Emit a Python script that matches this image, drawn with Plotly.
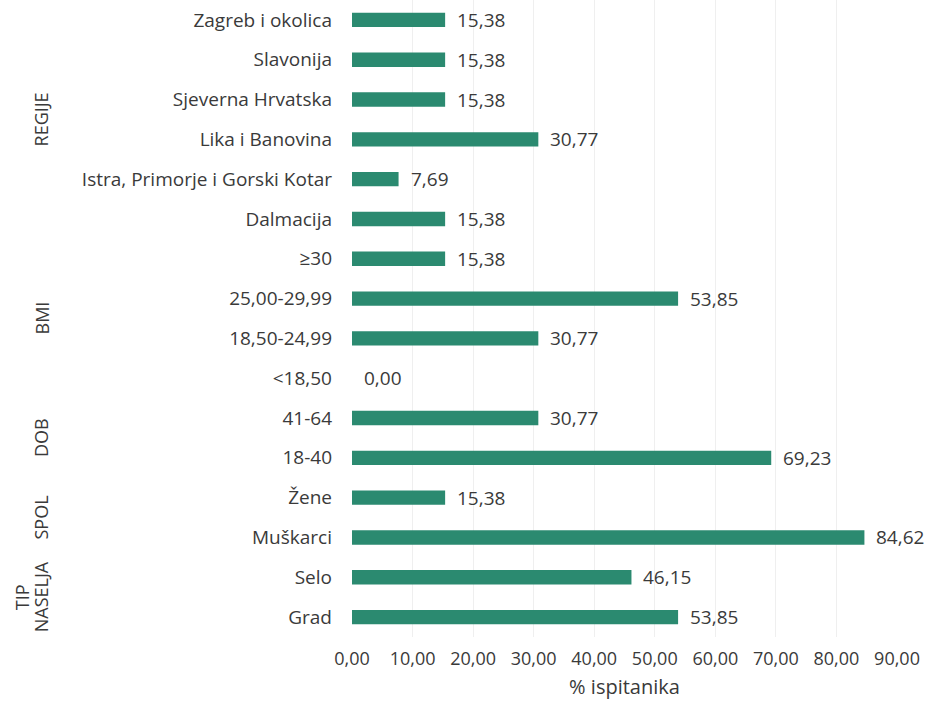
import plotly.graph_objects as go

# Kategorije (odozdo prema gore) i grupe kojima pripadaju
categories = [
    "Grad", "Selo",
    "Muškarci", "Žene",
    "18-40", "41-64",
    "<18,50", "18,50-24,99", "25,00-29,99", "≥30",
    "Dalmacija", "Istra, Primorje i Gorski Kotar", "Lika i Banovina",
    "Sjeverna Hrvatska", "Slavonija", "Zagreb i okolica",
]
values = [
    53.85, 46.15,
    84.62, 15.38,
    69.23, 30.77,
    0.00, 30.77, 53.85, 15.38,
    15.38, 7.69, 30.77, 15.38, 15.38, 15.38,
]
groups = [["TIP", "NASELJA"], ["SPOL"], ["DOB"], ["BMI"], ["REGIJE"]]
group_sizes = [2, 2, 2, 4, 6]
x_ticks = [0, 10, 20, 30, 40, 50, 60, 70, 80, 90]

BAR = "#2b8a70"
TXT = "#3a3a3a"
FONT = "'Open Sans', Lato, sans-serif"
SIZE = 19


def fmt(v):
    return f"{v:.2f}".replace(".", ",")


ypos = list(range(len(categories)))

fig = go.Figure(
    go.Bar(
        x=values,
        y=ypos,
        orientation="h",
        marker=dict(color=BAR, line=dict(width=0)),
        width=0.36,
        hovertemplate="%{x:.2f}<extra></extra>",
    )
)

# Vrijednosti desno od kraja svake trake
for yi, v in zip(ypos, values):
    fig.add_annotation(
        x=v, y=yi, xref="x", yref="y",
        text=fmt(v), showarrow=False,
        xanchor="left", xshift=10,
        font=dict(family=FONT, size=SIZE, color=TXT),
    )

# Rotirani nazivi grupa lijevo od oznaka kategorija (svaki redak zasebno)
start = 0
for lines, n in zip(groups, group_sizes):
    center = start + (n - 1) / 2
    for i, line in enumerate(lines):
        fig.add_annotation(
            x=0, xref="paper", xanchor="right",
            xshift=-297 - (len(lines) - 1 - i) * 19,
            y=center, yref="y",
            text=line, textangle=-90, showarrow=False,
            font=dict(family=FONT, size=18, color=TXT),
        )
    start += n

fig.update_layout(
    width=933, height=712,
    margin=dict(l=352, r=36, t=0, b=75),
    paper_bgcolor="white", plot_bgcolor="white",
    showlegend=False,
    font=dict(family=FONT, size=SIZE, color=TXT),
    xaxis=dict(
        range=[0, 90],
        tickvals=x_ticks,
        ticktext=[fmt(t) for t in x_ticks],
        showgrid=True, gridcolor="#efefef", gridwidth=1,
        zeroline=False, showline=False, ticks="",
        ticklabelstandoff=9,
        tickfont=dict(family=FONT, size=18, color=TXT),
        title=dict(text="% ispitanika", font=dict(family=FONT, size=20, color=TXT), standoff=10),
        automargin=False,
    ),
    yaxis=dict(
        range=[-0.5, len(categories) - 0.5],
        tickvals=ypos,
        ticktext=categories,
        showgrid=False, zeroline=False, showline=False,
        ticks="", ticklabelstandoff=19,
        tickfont=dict(family=FONT, size=SIZE, color=TXT),
        automargin=False,
    ),
)

fig.write_html("out.html")
